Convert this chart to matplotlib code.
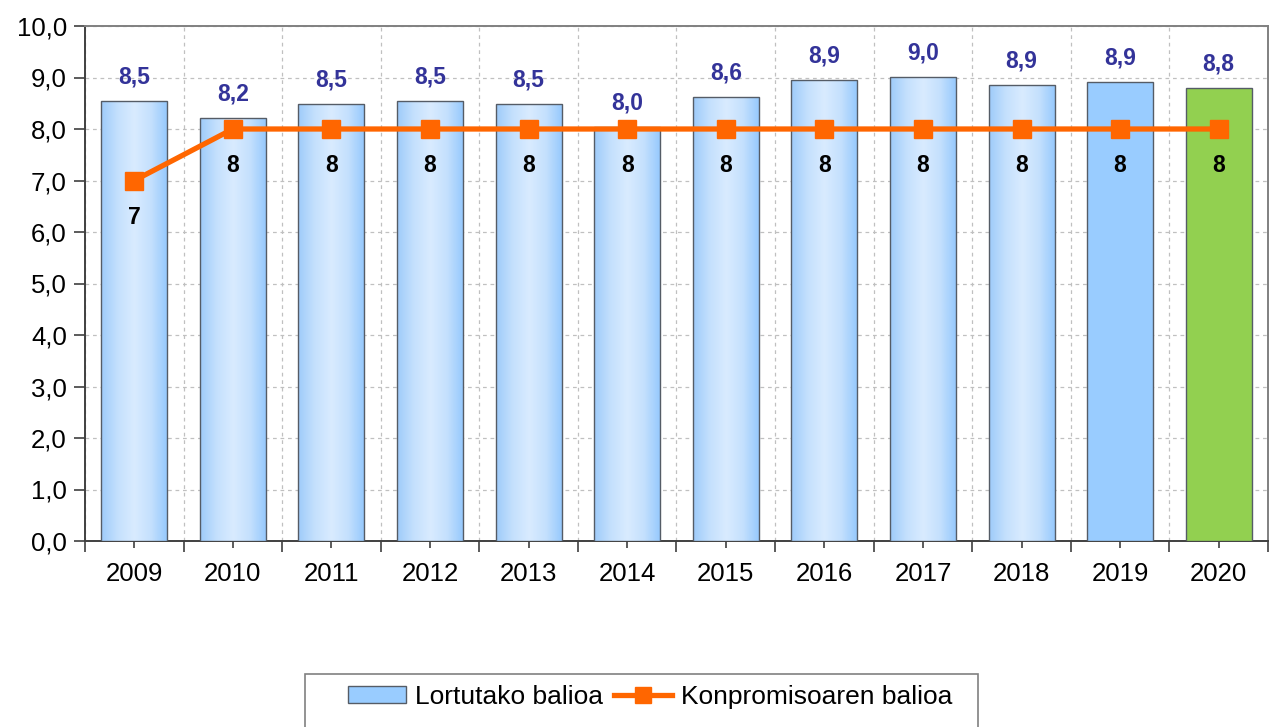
import matplotlib.pyplot as plt
import numpy as np
from matplotlib.colors import LinearSegmentedColormap
from matplotlib.lines import Line2D
from matplotlib.patches import Patch, Rectangle

plt.rcParams["font.family"] = ["Liberation Sans", "DejaVu Sans"]

years = ["2009", "2010", "2011", "2012", "2013", "2014",
         "2015", "2016", "2017", "2018", "2019", "2020"]
achieved = [8.54, 8.21, 8.49, 8.54, 8.49, 8.04, 8.62, 8.95, 9.01, 8.86, 8.91, 8.80]
commitment = [7, 8, 8, 8, 8, 8, 8, 8, 8, 8, 8, 8]
bar_style = ["grad"] * 10 + ["flat", "green"]

BLUE = "#99CCFF"
GREEN = "#92D050"
ORANGE = "#FF6600"
LABEL_BLUE = "#333399"
EDGE = "#555C66"

grad_cmap = LinearSegmentedColormap.from_list(
    "bar", ["#9ECBFA", "#C4E0FD", "#D9EBFF", "#C4E0FD", "#94C8FD"])

W, H = 1275, 727
fig = plt.figure(figsize=(W / 100, H / 100), dpi=100)
ax = fig.add_axes([85 / W, 1 - 541 / H, (1268 - 85) / W, (541 - 26) / H])

x = np.arange(len(years))
width = 0.67
bars = ax.bar(x, achieved, width=width, color=BLUE, edgecolor=EDGE,
              linewidth=1.0, zorder=3)
grad = np.linspace(0, 1, 256).reshape(1, -1)
for b, style in zip(bars, bar_style):
    if style == "green":
        b.set_facecolor(GREEN)
    elif style == "grad":
        b.set_facecolor("none")
        x0, y0 = b.get_x(), b.get_y()
        im = ax.imshow(grad, cmap=grad_cmap, aspect="auto", zorder=2.9,
                       extent=[x0, x0 + b.get_width(), y0, y0 + b.get_height()])
        im.set_clip_path(b)

ax.plot(x, commitment, color=ORANGE, lw=3.8, marker="s", markersize=13,
        zorder=5, solid_joinstyle="miter")

for xi, v in zip(x, achieved):
    ax.text(xi, v + 0.47, f"{v:.1f}".replace(".", ","), ha="center", va="center",
            color=LABEL_BLUE, fontsize=16.5, fontweight="bold", zorder=6)
for xi, v in zip(x, commitment):
    ax.text(xi, v - 0.71, f"{v}", ha="center", va="center",
            color="black", fontsize=16.5, fontweight="bold", zorder=6)

ax.set_xlim(-0.5, len(years) - 0.5)
ax.set_ylim(0, 10)
ax.set_yticks(np.arange(0, 10.1, 1))
ax.set_yticklabels([f"{t:.1f}".replace(".", ",") for t in np.arange(0, 10.1, 1)],
                   fontsize=18.5)
ax.set_xticks(x)
ax.set_xticklabels(years, fontsize=18.5)
ax.set_xticks(np.arange(-0.5, len(years)), minor=True)
ax.tick_params(axis="x", which="major", length=5, width=1.2, direction="out",
               color="#404040", pad=10)
ax.tick_params(axis="x", which="minor", length=8, width=1.2, direction="out",
               color="#404040")
ax.tick_params(axis="y", length=8, width=1.2, direction="out", color="#404040",
               pad=5)

ax.grid(axis="y", which="major", ls=(0, (3, 3)), color="#C0C0C0", lw=0.9, zorder=0)
ax.grid(axis="x", which="minor", ls=(0, (3, 3)), color="#C0C0C0", lw=0.9, zorder=0)
ax.grid(axis="x", which="major", visible=False)

for side in ["left", "bottom"]:
    ax.spines[side].set_color("#404040")
    ax.spines[side].set_linewidth(1.4)
for side in ["top", "right"]:
    ax.spines[side].set_color("#808080")
    ax.spines[side].set_linewidth(1.4)

# legend box runs off the bottom edge, as in the source image
fig.add_artist(Rectangle((305 / W, -0.05), (978 - 305) / W, 0.05 + 1 - 674 / H,
                         transform=fig.transFigure, facecolor="white",
                         edgecolor="#808080", linewidth=1.2))
handles = [
    Patch(facecolor=BLUE, edgecolor=EDGE, label="Lortutako balioa"),
    Line2D([0], [0], color=ORANGE, lw=3.8, marker="s", markersize=11,
           label="Konpromisoaren balioa"),
]
fig.legend(handles=handles, loc="center", bbox_to_anchor=(650 / W, 1 - 697 / H),
           ncol=2, fontsize=19, frameon=False, borderpad=0,
           handlelength=2.2, handleheight=0.6, handletextpad=0.35,
           columnspacing=0.4, borderaxespad=0)

fig.savefig("out.png", dpi=100)
